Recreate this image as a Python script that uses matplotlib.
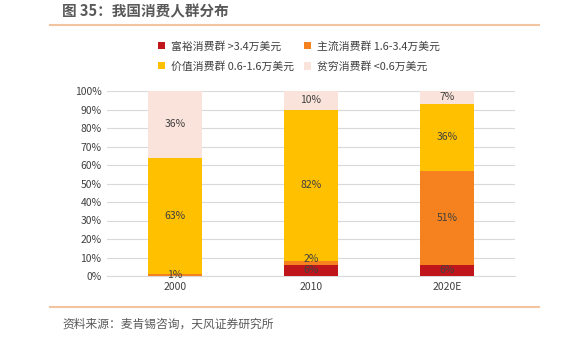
import matplotlib
matplotlib.use("Agg")
import matplotlib.pyplot as plt
from matplotlib.lines import Line2D
import numpy as np

plt.rcParams['font.family'] = ['Noto Sans CJK SC', 'DejaVu Sans']

years = ["2000", "2010", "2020E"]
rich = [0, 6, 6]
mainstream = [1, 2, 51]
value = [63, 82, 36]
poor = [36, 10, 7]
series_names = ["富裕消费群 >3.4万美元", "主流消费群 1.6-3.4万美元",
                "价值消费群 0.6-1.6万美元", "贫穷消费群 <0.6万美元"]
colors = ["#C0161B", "#F5821F", "#FFC000", "#FAE3DA"]
yticks = [0, 10, 20, 30, 40, 50, 60, 70, 80, 90, 100]

fig = plt.figure(figsize=(5.82, 3.40), dpi=100)
ax = fig.add_axes([107/582, 1-276/340, 408/582, 185/340])

x = np.arange(len(years))
bottom = np.zeros(len(years))
handles = []
for k, (vals, col, name) in enumerate(zip([rich, mainstream, value, poor], colors, series_names)):
    v = np.array(vals, dtype=float)
    b = ax.bar(x, v, 0.4, bottom=bottom, color=col, label=name, zorder=3)
    handles.append(b)
    for xi, vi, bi in zip(x, v, bottom):
        if vi > 0:
            ypos = bi + vi/2
            if k == 1 and vi < 5 and bi > 0:
                ypos = bi + vi + 1.2
            ax.text(xi, ypos, f"{int(vi)}%", ha='center', va='center',
                    fontsize=7.5, color='#404040', zorder=4)
    bottom += v

ax.set_xlim(-0.5, 2.5)
ax.set_ylim(0, 100)
ax.set_yticks(yticks)
ax.set_yticklabels([f"{t}%" for t in yticks], fontsize=7.5, color='#404040')
ax.set_xticks(x)
ax.set_xticklabels(years, fontsize=7.5, color='#404040')
ax.grid(axis='y', color='#D9D9D9', linewidth=0.8, zorder=0)
for s in ['top', 'right', 'left']:
    ax.spines[s].set_visible(False)
ax.spines['bottom'].set_color('#D9D9D9')
ax.tick_params(axis='both', length=0, pad=4)

order = [0, 2, 1, 3]
fig.legend([handles[i] for i in order], [series_names[i] for i in order],
           ncol=2, loc='upper left', bbox_to_anchor=(148/582, 1-31/340),
           frameon=False, fontsize=7.8, handlelength=0.7, handleheight=0.7,
           handletextpad=0.5, columnspacing=0.9, labelspacing=0.85,
           labelcolor='#404040')

fig.text(62/582, 1-11/340, "图 35：我国消费人群分布", fontsize=10.5, fontweight='bold',
         color='#595959', ha='left', va='center')
fig.add_artist(Line2D([50/582, 539/582], [1-25/340, 1-25/340], color='#F2C4A0', lw=1.5,
                      transform=fig.transFigure))
fig.add_artist(Line2D([50/582, 539/582], [1-307/340, 1-307/340], color='#F2C4A0', lw=1.5,
                      transform=fig.transFigure))
fig.text(62/582, 1-324/340, "资料来源：麦肯锡咨询，天风证券研究所", fontsize=8.5,
         color='#595959', ha='left', va='center')

fig.savefig("out.png", dpi=100)
